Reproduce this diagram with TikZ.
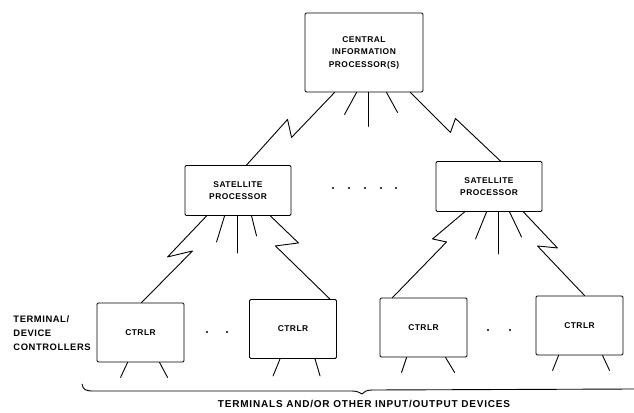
\documentclass[tikz,border=0pt]{standalone}
\usepackage{fontspec}
\setmainfont{Liberation Sans}
\newfontfamily\lblfont[LetterSpace=6]{Liberation Sans}
\newfontfamily\widefont[LetterSpace=8]{Liberation Sans}
\usetikzlibrary{calc}
\begin{document}
\begin{tikzpicture}[x=1pt,y=-1pt,line width=0.9pt,line cap=round,line join=round,
  box/.style={draw,rounded corners=1.2pt,inner sep=0pt,align=center,
    font=\lblfont\bfseries\fontsize{8.4}{12.5}\selectfont},
  cpbox/.style={box,minimum width=118pt,minimum height=79pt},
  satbox/.style={box,minimum width=106pt,minimum height=50pt},
  ctlbox/.style={box,minimum width=87pt,minimum height=59pt},
  sidelbl/.style={inner sep=0pt,font=\lblfont\bfseries\fontsize{9.4}{14}\selectfont},
  footlbl/.style={inner sep=0pt,font=\widefont\bfseries\fontsize{10}{12}\selectfont}]
\useasboundingbox (0,0) rectangle (634,412);

% processors and controllers
\node[cpbox] (cip) at (364,52.5) {CENTRAL\\INFORMATION\\PROCESSOR(S)};
\node[satbox] (sat1) at (238,190.5) {SATELLITE\\PROCESSOR};
\node[satbox] (sat2) at (489,186.5) {SATELLITE\\PROCESSOR};
\node[ctlbox] (c1) at (140.5,332.5) {CTRLR};
\node[ctlbox] (c2) at (293,329) {CTRLR};
\node[ctlbox] (c3) at (423.5,327.5) {CTRLR};
\node[ctlbox] (c4) at (579.5,325.5) {CTRLR};

% communication links (lightning-bolt lines)
\draw ([xshift=30pt]cip.south west) -- ++(-43,45) -- ++(-4,-18) -- ([xshift=62pt]sat1.north west);
\draw ([xshift=-13pt]cip.south east) -- ++(40,40) -- ++(5,-14) -- ([xshift=-42pt]sat2.north east);
\draw ([xshift=22pt]sat1.south west) -- ++(-39,41) -- ++(25,-6) -- ([xshift=45pt]c1.north west);
\draw ([xshift=-21pt]sat1.south east) -- ++(28,27) -- ++(-23,3) -- ([xshift=-7pt]c2.north east);
\draw ([xshift=29pt]sat2.south west) -- ++(-32,27) -- ++(14,3) -- ([xshift=13pt]c3.north west);
\draw ([xshift=-19pt]sat2.south east) -- ++(34,36) -- ++(-20,-2) -- ([xshift=49pt]c4.north west);

% local lines below the processors
\draw ([xshift=52pt]cip.south west) -- ++(-12,22);
\draw ([xshift=64pt]cip.south west) -- ++(0,34);
\draw ([xshift=82pt]cip.south west) -- ++(11,20);
\draw ([xshift=40pt]sat1.south west) -- ++(-8,26);
\draw ([xshift=53pt]sat1.south west) -- ++(0,37);
\draw ([xshift=67pt]sat1.south west) -- ++(5,20);
\draw ([xshift=51pt]sat2.south west) -- ++(-11,27);
\draw ([xshift=63pt]sat2.south west) -- ++(0,42);
\draw ([xshift=74pt]sat2.south west) -- ++(12,25);

% device lines below the controllers
\draw ([xshift=31pt]c1.south west) -- ++(-7,15);
\draw ([xshift=63pt]c1.south west) -- ++(8,15);
\draw ([xshift=31pt]c2.south west) -- ++(-7,17);
\draw ([xshift=66pt]c2.south west) -- ++(5,17);
\draw ([xshift=27pt]c3.south west) -- ++(-5,15);
\draw ([xshift=66pt]c3.south west) -- ++(9,15);
\draw ([xshift=23pt]c4.south west) -- ++(-6,15);
\draw ([xshift=67pt]c4.south west) -- ++(7,15);

% ellipsis dots
\foreach \x in {333,349,365,381,396} \fill (\x,188) circle[radius=1.1pt];
\fill (207,332) circle[radius=1.1pt];
\fill (227,332) circle[radius=1.1pt];
\fill (488,330) circle[radius=1.1pt];
\fill (510,330) circle[radius=1.1pt];

% brace over the devices
\draw (82,384) .. controls (83,390) and (86,391) .. (94,391) -- (352,391)
  .. controls (358,391) and (360,393) .. (362,394)
  .. controls (364,392) and (366,390) .. (372,390) -- (634,389);

% labels
\node[sidelbl,anchor=west,align=left] (tdc) at (13,333) {TERMINAL/\\DEVICE\\CONTROLLERS};
\node[footlbl] (io) at (364,404) {TERMINALS AND/OR OTHER INPUT/OUTPUT DEVICES};
\end{tikzpicture}
\end{document}
